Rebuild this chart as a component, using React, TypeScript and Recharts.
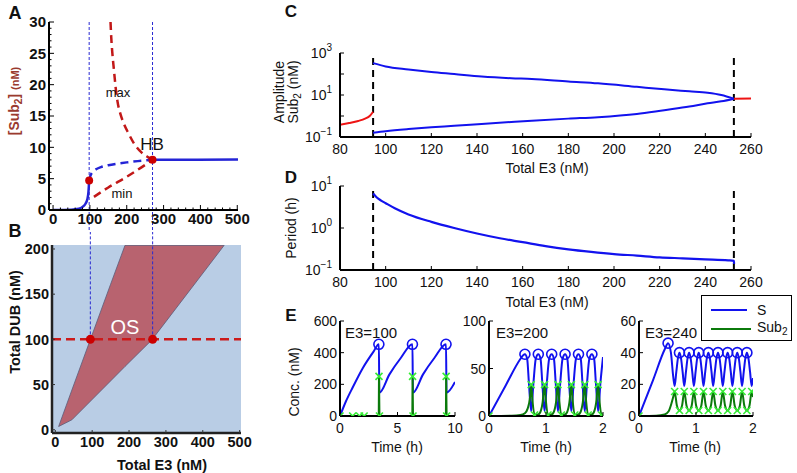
import React from 'react'
import { ComposedChart, Line, Area, XAxis, YAxis, ReferenceLine, CartesianGrid } from 'recharts'

const FONT = '"Liberation Sans", Arial, Helvetica, sans-serif'

// ---- A: steady state [Sub2] vs total E3
const aLowE3 = [0, 50, 70, 80, 88, 93, 96, 98]
const aLowSub = [0, 0.05, 0.2, 0.5, 1.0, 1.7, 2.8, 4.7]
const aUnstE3 = [98, 101, 105, 110, 118, 130, 150, 175, 200, 230, 270]
const aUnstSub = [4.7, 5.4, 5.9, 6.2, 6.55, 6.85, 7.15, 7.4, 7.6, 7.8, 8.0]
const aHighE3 = [270, 350, 502]
const aHighSub = [8.0, 8.0, 8.05]
const aMaxE3 = [156, 158, 161, 165, 170, 175, 183, 192, 205, 220, 240, 256, 270]
const aMaxSub = [30, 27.5, 25, 22.5, 19.5, 17.3, 15.3, 13.8, 12.2, 10.6, 9.2, 8.5, 8.0]
const aMinE3 = [111, 150, 200, 240, 270]
const aMinSub = [2.1, 3.6, 5.3, 6.8, 8.0]
const aDotE3 = [98, 270]
const aDotSub = [4.7, 8.0]
const aXTicks = [0, 100, 200, 300, 400, 500]
const aYTicks = [0, 5, 10, 15, 20, 25, 30]

// ---- B: oscillation region (OS) in E3 / DUB plane
const bOsE3 = [9, 45, 150, 189, 262, 458]
const bOsLow = [3.6, 11, 54, 70, 99.4, 204]
const bOsHigh = [3.6, 44, 161, 204, 204, 204]
const bDotE3 = [95, 264]
const bDotDub = [100, 100]
const bXTicks = [0, 100, 200, 300, 400, 500]
const bYTicks = [0, 50, 100, 150, 200]

// ---- C: amplitude of Sub2
const cLeftE3 = [80, 84, 88, 91, 93, 94.5]
const cLeftAmp = [0.38, 0.46, 0.58, 0.75, 1.0, 1.6]
const cOscE3 = [94.5, 100, 110, 120, 130, 142, 155, 164, 180, 193, 210, 222, 233, 241, 247, 252.5]
const cUpper = [330, 230, 165, 125, 100, 76, 63, 58, 44, 36, 24.5, 18.6, 15, 12.8, 10, 6.7]
const cLower = [0.16, 0.19, 0.24, 0.29, 0.34, 0.42, 0.52, 0.6, 0.75, 0.88, 1.25, 1.9, 2.8, 4.0, 5.0, 6.7]
const cRightE3 = [252.5, 260]
const cRightAmp = [6.7, 6.9]
const cdXTicks = [80, 100, 120, 140, 160, 180, 200, 220, 240, 260]
const cYTicks = [0.1, 1, 10, 100, 1000]
const cYLabels = [0.1, 10, 1000]
const hopfE3 = [94.5, 252.5]

// ---- D: period
const dE3 = [94.5, 96, 98, 100, 104, 110, 120, 130, 140, 150, 160, 170, 180, 190, 200, 210, 220, 230, 240, 250, 252.5, 252.6]
const dPeriod = [6.6, 5.4, 4.5, 3.9, 2.95, 2.1, 1.4, 1.0, 0.74, 0.57, 0.46, 0.37, 0.31, 0.27, 0.24, 0.22, 0.2, 0.19, 0.18, 0.17, 0.165, 0.14]
const dYTicks = [0.1, 1, 10]

// ---- E: time courses
const e1T = [0, 0.5, 1.1, 2, 2.9, 3.38, 3.42, 4.3, 5.3, 6.3, 6.34, 7.22, 8.22, 9.22, 9.26, 10]
const e1S = [0, 90, 180, 305, 405, 453, 147, 263, 368, 453, 147, 263, 368, 453, 147, 215]
const e1SubT = [0, 3.37, 3.39, 3.43, 6.29, 6.31, 6.35, 9.21, 9.23, 9.27, 10]
const e1Sub = [0, 0, 250, 0, 0, 250, 0, 0, 250, 0, 0]
const e1PeakT = [3.38, 6.3, 9.22]
const e1Peak = [453, 453, 453]
const e1MarkT = [0, 1.1, 1.7, 2.1, 3.39, 3.43, 6.31, 6.35, 9.23, 9.27]
const e1Mark = [0, 0, 0, 0, 250, 0, 250, 0, 250, 0]

const e2T = [0, 0.3, 0.55, 0.6, 0.63, 0.67, 0.7, 0.74, 0.78, 0.82, 0.865, 0.905, 0.935, 0.975, 1.015, 1.055, 1.1, 1.14, 1.17, 1.21, 1.25, 1.29, 1.335, 1.375, 1.405, 1.445, 1.485, 1.525, 1.57, 1.61, 1.64, 1.68, 1.72, 1.76, 1.805, 1.845, 1.875, 1.915, 1.955, 2.0]
const e2S = [0, 33, 60, 64, 65, 60, 35, 5, 35, 60, 65, 60, 35, 5, 35, 60, 65, 60, 35, 5, 35, 60, 65, 60, 35, 5, 35, 60, 65, 60, 35, 5, 35, 60, 65, 60, 35, 5, 35, 62]
const e2SubT = [0, 0.4, 0.55, 0.63, 0.68, 0.72, 0.74, 0.76, 0.8, 0.86, 0.9, 0.94, 0.975, 0.995, 1.035, 1.095, 1.135, 1.175, 1.21, 1.23, 1.27, 1.33, 1.37, 1.41, 1.445, 1.465, 1.505, 1.565, 1.605, 1.645, 1.68, 1.7, 1.74, 1.8, 1.84, 1.88, 1.915, 1.935, 1.975, 2.0]
const e2Sub = [0, 0.3, 1, 3, 8, 20, 33, 18, 1, 1.5, 4, 14, 33, 18, 1, 1.5, 4, 14, 33, 18, 1, 1.5, 4, 14, 33, 18, 1, 1.5, 4, 14, 33, 18, 1, 1.5, 4, 14, 33, 18, 1, 1.2]
const e2PeakT = [0.63, 0.865, 1.1, 1.335, 1.57, 1.805]
const e2Peak = [65, 65, 65, 65, 65, 65]
const e2MarkT = [0, 0.74, 0.8, 0.975, 1.035, 1.21, 1.27, 1.445, 1.505, 1.68, 1.74, 1.915, 1.975]
const e2Mark = [0, 33, 1, 33, 1, 33, 1, 33, 1, 33, 1, 33, 1]

const e3T = [0, 0.25, 0.45, 0.51, 0.56, 0.6, 0.625, 0.655, 0.685, 0.71, 0.735, 0.765, 0.794, 0.824, 0.854, 0.879, 0.904, 0.934, 0.963, 0.993, 1.023, 1.048, 1.073, 1.103, 1.132, 1.162, 1.192, 1.217, 1.242, 1.272, 1.301, 1.331, 1.361, 1.386, 1.411, 1.441, 1.47, 1.5, 1.53, 1.555, 1.58, 1.61, 1.639, 1.669, 1.699, 1.724, 1.749, 1.779, 1.808, 1.838, 1.868, 1.893, 1.918, 1.948, 1.977, 2.0]
const e3S = [0, 23, 42, 46, 40, 25, 19, 28, 37, 40, 37, 28, 19, 28, 37, 40, 37, 28, 19, 28, 37, 40, 37, 28, 19, 28, 37, 40, 37, 28, 19, 28, 37, 40, 37, 28, 19, 28, 37, 40, 37, 28, 19, 28, 37, 40, 37, 28, 19, 28, 37, 40, 37, 28, 19, 24]
const e3SubT = [0, 0.3, 0.45, 0.52, 0.57, 0.6, 0.625, 0.665, 0.71, 0.755, 0.794, 0.834, 0.879, 0.924, 0.963, 1.003, 1.048, 1.093, 1.132, 1.172, 1.217, 1.262, 1.301, 1.341, 1.386, 1.431, 1.47, 1.51, 1.555, 1.6, 1.639, 1.679, 1.724, 1.769, 1.808, 1.848, 1.893, 1.938, 1.977, 2.0]
const e3Sub = [0, 0.2, 1, 3, 8, 12, 15.5, 6.5, 3.5, 6.5, 15.5, 6.5, 3.5, 6.5, 15.5, 6.5, 3.5, 6.5, 15.5, 6.5, 3.5, 6.5, 15.5, 6.5, 3.5, 6.5, 15.5, 6.5, 3.5, 6.5, 15.5, 6.5, 3.5, 6.5, 15.5, 6.5, 3.5, 6.5, 15.5, 12]
const e3PeakT = [0.51, 0.71, 0.879, 1.048, 1.217, 1.386, 1.555, 1.724, 1.893]
const e3Peak = [46, 40, 40, 40, 40, 40, 40, 40, 40]
const e3MarkT = [0, 0.625, 0.71, 0.794, 0.879, 0.963, 1.048, 1.132, 1.217, 1.301, 1.386, 1.47, 1.555, 1.639, 1.724, 1.808, 1.893, 1.977]
const e3Mark = [0, 15.5, 3.5, 15.5, 3.5, 15.5, 3.5, 15.5, 3.5, 15.5, 3.5, 15.5, 3.5, 15.5, 3.5, 15.5, 3.5, 15.5]

type Pt = { x: number; y: number }
const zip = (xs: number[], ys: number[]): Pt[] => xs.map((x, i) => ({ x, y: ys[i] }))
const steps = (a: number, b: number, s: number) =>
  Array.from({ length: Math.round((b - a) / s) + 1 }, (_, i) => +(a + i * s).toFixed(6))

const BLUE_M = '#2424d6'
const RED_M = '#c21818'
const BLUE = '#1212ee'
const RED = '#ee1414'
const GREEN = '#0b7a0b'
const LIME = '#35ec35'

type Side = 'left' | 'right' | 'top' | 'bottom'
type AxCfg = {
  xDomain: [number, number]
  yDomain: [number, number]
  xTicks: number[]
  yTicks: number[]
  xLab: number[]
  yLab: number[]
  yLog?: boolean
  yWidth: number
  xHeight: number
  len: number
  minorLen?: number
  fs: number
  fw?: number | string
  xGap: number
  yGap: number
  yFmt?: (v: number) => React.ReactNode
  frame: string
  frameW: number
  tickColor?: string
}

const has = (arr: number[], v: number) => arr.some(a => Math.abs(a - v) < 1e-9)

function tickFn(side: Side, c: AxCfg, withText: boolean) {
  const labs = side === 'left' || side === 'right' ? c.yLab : c.xLab
  return (p: any) => {
    const x = Number(p.x)
    const y = Number(p.y)
    const v = Number(p.payload?.value)
    const major = c.minorLen === undefined || has(labs, v)
    const L = major ? c.len : (c.minorLen as number)
    const st = { stroke: c.tickColor ?? '#000', strokeWidth: 1 }
    let ln: React.ReactNode = null
    if (L > 0) {
      if (side === 'left') ln = <line x1={x} y1={y} x2={x + L} y2={y} {...st} />
      else if (side === 'right') ln = <line x1={x} y1={y} x2={x - L} y2={y} {...st} />
      else if (side === 'bottom') ln = <line x1={x} y1={y} x2={x} y2={y - L} {...st} />
      else ln = <line x1={x} y1={y} x2={x} y2={y + L} {...st} />
    }
    let tx: React.ReactNode = null
    if (withText && has(labs, v)) {
      const common = { fontSize: c.fs, fontWeight: c.fw ?? 'normal', fontFamily: FONT, fill: '#111' }
      if (side === 'left')
        tx = (
          <text x={x - c.yGap} y={y + c.fs * 0.36} textAnchor="end" {...common}>
            {c.yFmt ? c.yFmt(v) : v}
          </text>
        )
      else
        tx = (
          <text x={x} y={y + c.xGap + c.fs * 0.72} textAnchor="middle" {...common}>
            {v}
          </text>
        )
    }
    return (
      <g>
        {ln}
        {tx}
      </g>
    )
  }
}

function axes(c: AxCfg) {
  const common = {
    allowDataOverflow: true,
    interval: 0 as const,
    tickSize: 0,
    tickMargin: 0,
    tickLine: false,
    axisLine: { stroke: c.frame, strokeWidth: c.frameW },
  }
  const ys = c.yLog ? 'log' : 'linear'
  return [
    <XAxis key="xb" xAxisId={0} type="number" dataKey="x" domain={c.xDomain} ticks={c.xTicks} height={c.xHeight} tick={tickFn('bottom', c, true)} {...common} />,
    <XAxis key="xt" xAxisId="t" orientation="top" type="number" dataKey="x" domain={c.xDomain} ticks={c.xTicks} height={0} tick={tickFn('top', c, false)} {...common} />,
    <YAxis key="yl" yAxisId={0} type="number" dataKey="y" scale={ys} domain={c.yDomain} ticks={c.yTicks} width={c.yWidth} tick={tickFn('left', c, true)} {...common} />,
    <YAxis key="yr" yAxisId="r" orientation="right" type="number" dataKey="y" scale={ys} domain={c.yDomain} ticks={c.yTicks} width={0} tick={tickFn('right', c, false)} {...common} />,
  ]
}

const expLabel = (v: number) => {
  const e = Math.round(Math.log10(v))
  return (
    <>
      10
      <tspan dy={-7} fontSize={10}>
        {e < 0 ? '\u2212' + -e : String(e)}
      </tspan>
    </>
  )
}

const dotFn = (r: number, fill: string) => (p: any) => (
  <circle key={'d' + p.index} cx={p.cx} cy={p.cy} r={r} fill={fill} />
)
const ringFn = (p: any) => (
  <circle key={'o' + p.index} cx={p.cx} cy={p.cy} r={5} fill="none" stroke={BLUE} strokeWidth={1.6} />
)
const crossFn = (p: any) => (
  <g key={'x' + p.index} stroke={LIME} strokeWidth={1.6}>
    <line x1={p.cx - 3.5} y1={p.cy - 3.5} x2={p.cx + 3.5} y2={p.cy + 3.5} />
    <line x1={p.cx - 3.5} y1={p.cy + 3.5} x2={p.cx + 3.5} y2={p.cy - 3.5} />
  </g>
)

function Txt(props: {
  x: number
  y: number
  children: React.ReactNode
  size?: number
  weight?: string | number
  anchor?: 'start' | 'middle'
  rot?: boolean
  color?: string
}) {
  const { x, y, children, size = 14, weight = 'normal', anchor = 'middle', rot = false, color = '#111' } = props
  const tx = anchor === 'middle' ? '-50%' : '0'
  return (
    <div
      style={{
        position: 'absolute',
        left: x,
        top: y,
        transform: `translate(${tx}, -50%)${rot ? ' rotate(-90deg)' : ''}`,
        fontSize: size,
        fontWeight: weight,
        color,
        whiteSpace: 'nowrap',
        lineHeight: 1,
        fontFamily: FONT,
      }}
    >
      {children}
    </div>
  )
}

const Sub = ({ children }: { children: React.ReactNode }) => (
  <sub style={{ fontSize: '0.72em', verticalAlign: '-0.25em', lineHeight: 0 }}>{children}</sub>
)

function PanelA() {
  const cfg: AxCfg = {
    xDomain: [-11, 502],
    yDomain: [0, 30],
    xTicks: steps(0, 500, 20),
    yTicks: steps(0, 30, 1),
    xLab: aXTicks,
    yLab: aYTicks,
    yWidth: 49,
    xHeight: 22,
    len: 5,
    minorLen: 2.5,
    fs: 15,
    fw: 'bold',
    xGap: 3,
    yGap: 3,
    frame: '#000',
    frameW: 2,
  }
  return (
    <div style={{ position: 'absolute', left: 0, top: 0 }}>
      <ComposedChart width={262} height={232} margin={{ top: 22, right: 24, bottom: 0, left: 0 }}>
        {axes(cfg)}
        {aDotE3.map(e => (
          <ReferenceLine key={'va' + e} segment={[{ x: e, y: 30 }, { x: e, y: -3.6 }]} stroke="#2a2ad2" strokeWidth={1} strokeDasharray="3 2" ifOverflow="visible" />
        ))}
        <Line data={zip(aMaxE3, aMaxSub)} dataKey="y" type="monotone" stroke={RED_M} strokeWidth={2.5} strokeDasharray="8 5" dot={false} isAnimationActive={false} />
        <Line data={zip(aMinE3, aMinSub)} dataKey="y" type="monotone" stroke={RED_M} strokeWidth={2.5} strokeDasharray="8 5" dot={false} isAnimationActive={false} />
        <Line data={zip(aUnstE3, aUnstSub)} dataKey="y" type="monotone" stroke={BLUE_M} strokeWidth={2.5} strokeDasharray="8 5" dot={false} isAnimationActive={false} />
        <Line data={zip(aLowE3, aLowSub)} dataKey="y" type="monotone" stroke={BLUE_M} strokeWidth={2.5} dot={false} isAnimationActive={false} />
        <Line data={zip(aHighE3, aHighSub)} dataKey="y" type="monotone" stroke={BLUE_M} strokeWidth={2.5} dot={false} isAnimationActive={false} />
        <Line data={zip(aDotE3, aDotSub)} dataKey="y" stroke="none" dot={dotFn(4, '#cc0000')} isAnimationActive={false} />
      </ComposedChart>
    </div>
  )
}

function PanelB() {
  const cfg: AxCfg = {
    xDomain: [-9, 503.7],
    yDomain: [-3.6, 204.4],
    xTicks: bXTicks,
    yTicks: bYTicks,
    xLab: bXTicks,
    yLab: bYTicks,
    yWidth: 52,
    xHeight: 20,
    len: 3,
    fs: 14.5,
    fw: 'bold',
    xGap: 4,
    yGap: 3,
    frame: '#222',
    frameW: 2.5,
    tickColor: '#333',
  }
  const os = bOsE3.map((x, i) => ({ x, r: [bOsLow[i], bOsHigh[i]] }))
  return (
    <div style={{ position: 'absolute', left: 0, top: 232 }}>
      <ComposedChart width={262} height={241} margin={{ top: 13, right: 21, bottom: 20, left: 0 }}>
        <CartesianGrid horizontal={false} vertical={false} fill="#b9cde5" />
        {axes(cfg)}
        <Area data={os} dataKey="r" type="linear" fill="#b8636f" fillOpacity={1} stroke="#5c5c78" strokeWidth={0.8} isAnimationActive={false} />
        <ReferenceLine y={100} stroke="#cc1a1a" strokeWidth={2.5} strokeDasharray="9 5" />
        {bDotE3.map(e => (
          <ReferenceLine key={'vb' + e} segment={[{ x: e, y: 100 }, { x: e, y: 219 }]} stroke="#2a2ad2" strokeWidth={1} strokeDasharray="3 2" ifOverflow="visible" />
        ))}
        <Line data={zip(bDotE3, bDotDub)} dataKey="y" stroke="none" dot={dotFn(4.5, '#cc0000')} isAnimationActive={false} />
      </ComposedChart>
    </div>
  )
}

function PanelC() {
  const cfg: AxCfg = {
    xDomain: [80, 260],
    yDomain: [0.1, 1000],
    xTicks: cdXTicks,
    yTicks: cYTicks,
    xLab: cdXTicks,
    yLab: cYLabels,
    yLog: true,
    yWidth: 80,
    xHeight: 20,
    len: 4,
    fs: 14,
    xGap: 7,
    yGap: 8,
    yFmt: expLabel,
    frame: '#000',
    frameW: 2,
  }
  return (
    <div style={{ position: 'absolute', left: 260, top: 0 }}>
      <ComposedChart width={537} height={160} margin={{ top: 53, right: 46, bottom: 3, left: 0 }}>
        {axes(cfg)}
        {hopfE3.map(e => (
          <ReferenceLine key={'hc' + e} x={e} stroke="#000" strokeWidth={2} strokeDasharray="7 5" />
        ))}
        <Line data={zip(cLeftE3, cLeftAmp)} dataKey="y" type="monotone" stroke={RED} strokeWidth={2} dot={false} isAnimationActive={false} />
        <Line data={zip(cRightE3, cRightAmp)} dataKey="y" type="monotone" stroke={RED} strokeWidth={2} dot={false} isAnimationActive={false} />
        <Line data={zip(cOscE3, cUpper)} dataKey="y" type="monotone" stroke={BLUE} strokeWidth={2} dot={false} isAnimationActive={false} />
        <Line data={zip(cOscE3, cLower)} dataKey="y" type="monotone" stroke={BLUE} strokeWidth={2} dot={false} isAnimationActive={false} />
      </ComposedChart>
    </div>
  )
}

function PanelD() {
  const cfg: AxCfg = {
    xDomain: [80, 260],
    yDomain: [0.1, 10],
    xTicks: cdXTicks,
    yTicks: dYTicks,
    xLab: cdXTicks,
    yLab: dYTicks,
    yLog: true,
    yWidth: 80,
    xHeight: 20,
    len: 4,
    fs: 14,
    xGap: 7,
    yGap: 8,
    yFmt: expLabel,
    frame: '#000',
    frameW: 2,
  }
  return (
    <div style={{ position: 'absolute', left: 260, top: 160 }}>
      <ComposedChart width={537} height={140} margin={{ top: 26, right: 46, bottom: 10, left: 0 }}>
        {axes(cfg)}
        {hopfE3.map(e => (
          <ReferenceLine key={'hd' + e} x={e} stroke="#000" strokeWidth={2} strokeDasharray="7 5" />
        ))}
        <Line data={zip(dE3, dPeriod)} dataKey="y" type="monotone" stroke={BLUE} strokeWidth={2.2} dot={false} isAnimationActive={false} />
      </ComposedChart>
    </div>
  )
}

function TimePlot(props: {
  left: number
  yAxisW: number
  rightM: number
  xMax: number
  xTicks: number[]
  yMax: number
  yTicks: number[]
  s: Pt[]
  sub: Pt[]
  peaks: Pt[]
  marks: Pt[]
  subLinear?: boolean
}) {
  const cfg: AxCfg = {
    xDomain: [0, props.xMax],
    yDomain: [0, props.yMax],
    xTicks: props.xTicks,
    yTicks: props.yTicks,
    xLab: props.xTicks,
    yLab: props.yTicks,
    yWidth: props.yAxisW,
    xHeight: 19,
    len: 4,
    fs: 14,
    xGap: 7,
    yGap: 3,
    frame: '#000',
    frameW: 2,
  }
  return (
    <div style={{ position: 'absolute', left: props.left, top: 300 }}>
      <ComposedChart width={175} height={135} margin={{ top: 21, right: props.rightM, bottom: 0, left: 0 }}>
        {axes(cfg)}
        <Line data={props.s} dataKey="y" type="monotone" stroke={BLUE} strokeWidth={2} dot={false} isAnimationActive={false} />
        <Line data={props.sub} dataKey="y" type={props.subLinear ? 'linear' : 'monotone'} stroke={GREEN} strokeWidth={2} dot={false} isAnimationActive={false} />
        <Line data={props.peaks} dataKey="y" stroke="none" dot={ringFn} isAnimationActive={false} />
        <Line data={props.marks} dataKey="y" stroke="none" dot={crossFn} isAnimationActive={false} />
      </ComposedChart>
    </div>
  )
}

export default function App() {
  return (
    <div
      style={{
        position: 'absolute',
        left: 0,
        top: 0,
        width: 797,
        height: 473,
        background: '#fff',
        overflow: 'hidden',
        fontFamily: FONT,
      }}
    >
      <PanelA />
      <PanelB />
      <PanelC />
      <PanelD />
      <TimePlot left={300} yAxisW={40} rightM={20} xMax={10} xTicks={[0, 5, 10]} yMax={600} yTicks={[0, 200, 400, 600]} s={zip(e1T, e1S)} sub={zip(e1SubT, e1Sub)} peaks={zip(e1PeakT, e1Peak)} marks={zip(e1MarkT, e1Mark)} subLinear />
      <TimePlot left={450} yAxisW={39} rightM={22} xMax={2} xTicks={[0, 1, 2]} yMax={100} yTicks={[0, 50, 100]} s={zip(e2T, e2S)} sub={zip(e2SubT, e2Sub)} peaks={zip(e2PeakT, e2Peak)} marks={zip(e2MarkT, e2Mark)} />
      <TimePlot left={600} yAxisW={39} rightM={22} xMax={2} xTicks={[0, 1, 2]} yMax={60} yTicks={[0, 20, 40, 60]} s={zip(e3T, e3S)} sub={zip(e3SubT, e3Sub)} peaks={zip(e3PeakT, e3Peak)} marks={zip(e3MarkT, e3Mark)} />

      {/* panel letters */}
      <Txt x={15} y={13} size={18} weight="bold">A</Txt>
      <Txt x={15} y={231} size={18} weight="bold">B</Txt>
      <Txt x={291} y={11} size={17} weight="bold">C</Txt>
      <Txt x={291} y={177} size={17} weight="bold">D</Txt>
      <Txt x={291} y={315} size={17} weight="bold">E</Txt>

      {/* A annotations */}
      <Txt x={14} y={101} rot weight="bold" color="#9a3a2e" size={14}>
        [Sub<Sub>2</Sub>] <span style={{ fontSize: 11 }}>(nM)</span>
      </Txt>
      <Txt x={118} y={92} size={13}>max</Txt>
      <Txt x={122} y={193} size={13}>min</Txt>
      <Txt x={152} y={144} size={17}>HB</Txt>

      {/* B annotations */}
      <Txt x={15} y={322} rot weight="bold" size={14.5}>Total DUB (nM)</Txt>
      <Txt x={162} y={465} weight="bold" size={14.5}>Total E3 (nM)</Txt>
      <Txt x={125} y={327} size={20} color="#fff">OS</Txt>

      {/* C / D axis titles */}
      <Txt x={279} y={92} rot>Amplitude</Txt>
      <Txt x={293} y={92} rot>
        Sub<Sub>2</Sub> (nM)
      </Txt>
      <Txt x={547} y={168}>Total E3 (nM)</Txt>
      <Txt x={291} y={228} rot>Period (h)</Txt>
      <Txt x={547} y={302}>Total E3 (nM)</Txt>

      {/* E titles */}
      <Txt x={294} y={382} rot>Conc. (nM)</Txt>
      <Txt x={397} y={447}>Time (h)</Txt>
      <Txt x={546} y={447}>Time (h)</Txt>
      <Txt x={695} y={447}>Time (h)</Txt>
      <Txt x={345} y={332} size={15} anchor="start">E3=100</Txt>
      <Txt x={496} y={332} size={15} anchor="start">E3=200</Txt>
      <Txt x={645} y={332} size={15} anchor="start">E3=240</Txt>

      {/* legend for E */}
      <div style={{ position: 'absolute', left: 701, top: 295, width: 89, height: 44, border: '1.5px solid #000', background: '#fff' }}>
        <div style={{ position: 'absolute', left: 9, top: 13, width: 36, height: 2, background: BLUE }} />
        <Txt x={55} y={14} anchor="start">S</Txt>
        <div style={{ position: 'absolute', left: 9, top: 32, width: 40, height: 2, background: GREEN }} />
        <Txt x={55} y={31} anchor="start">
          Sub<Sub>2</Sub>
        </Txt>
      </div>
    </div>
  )
}
